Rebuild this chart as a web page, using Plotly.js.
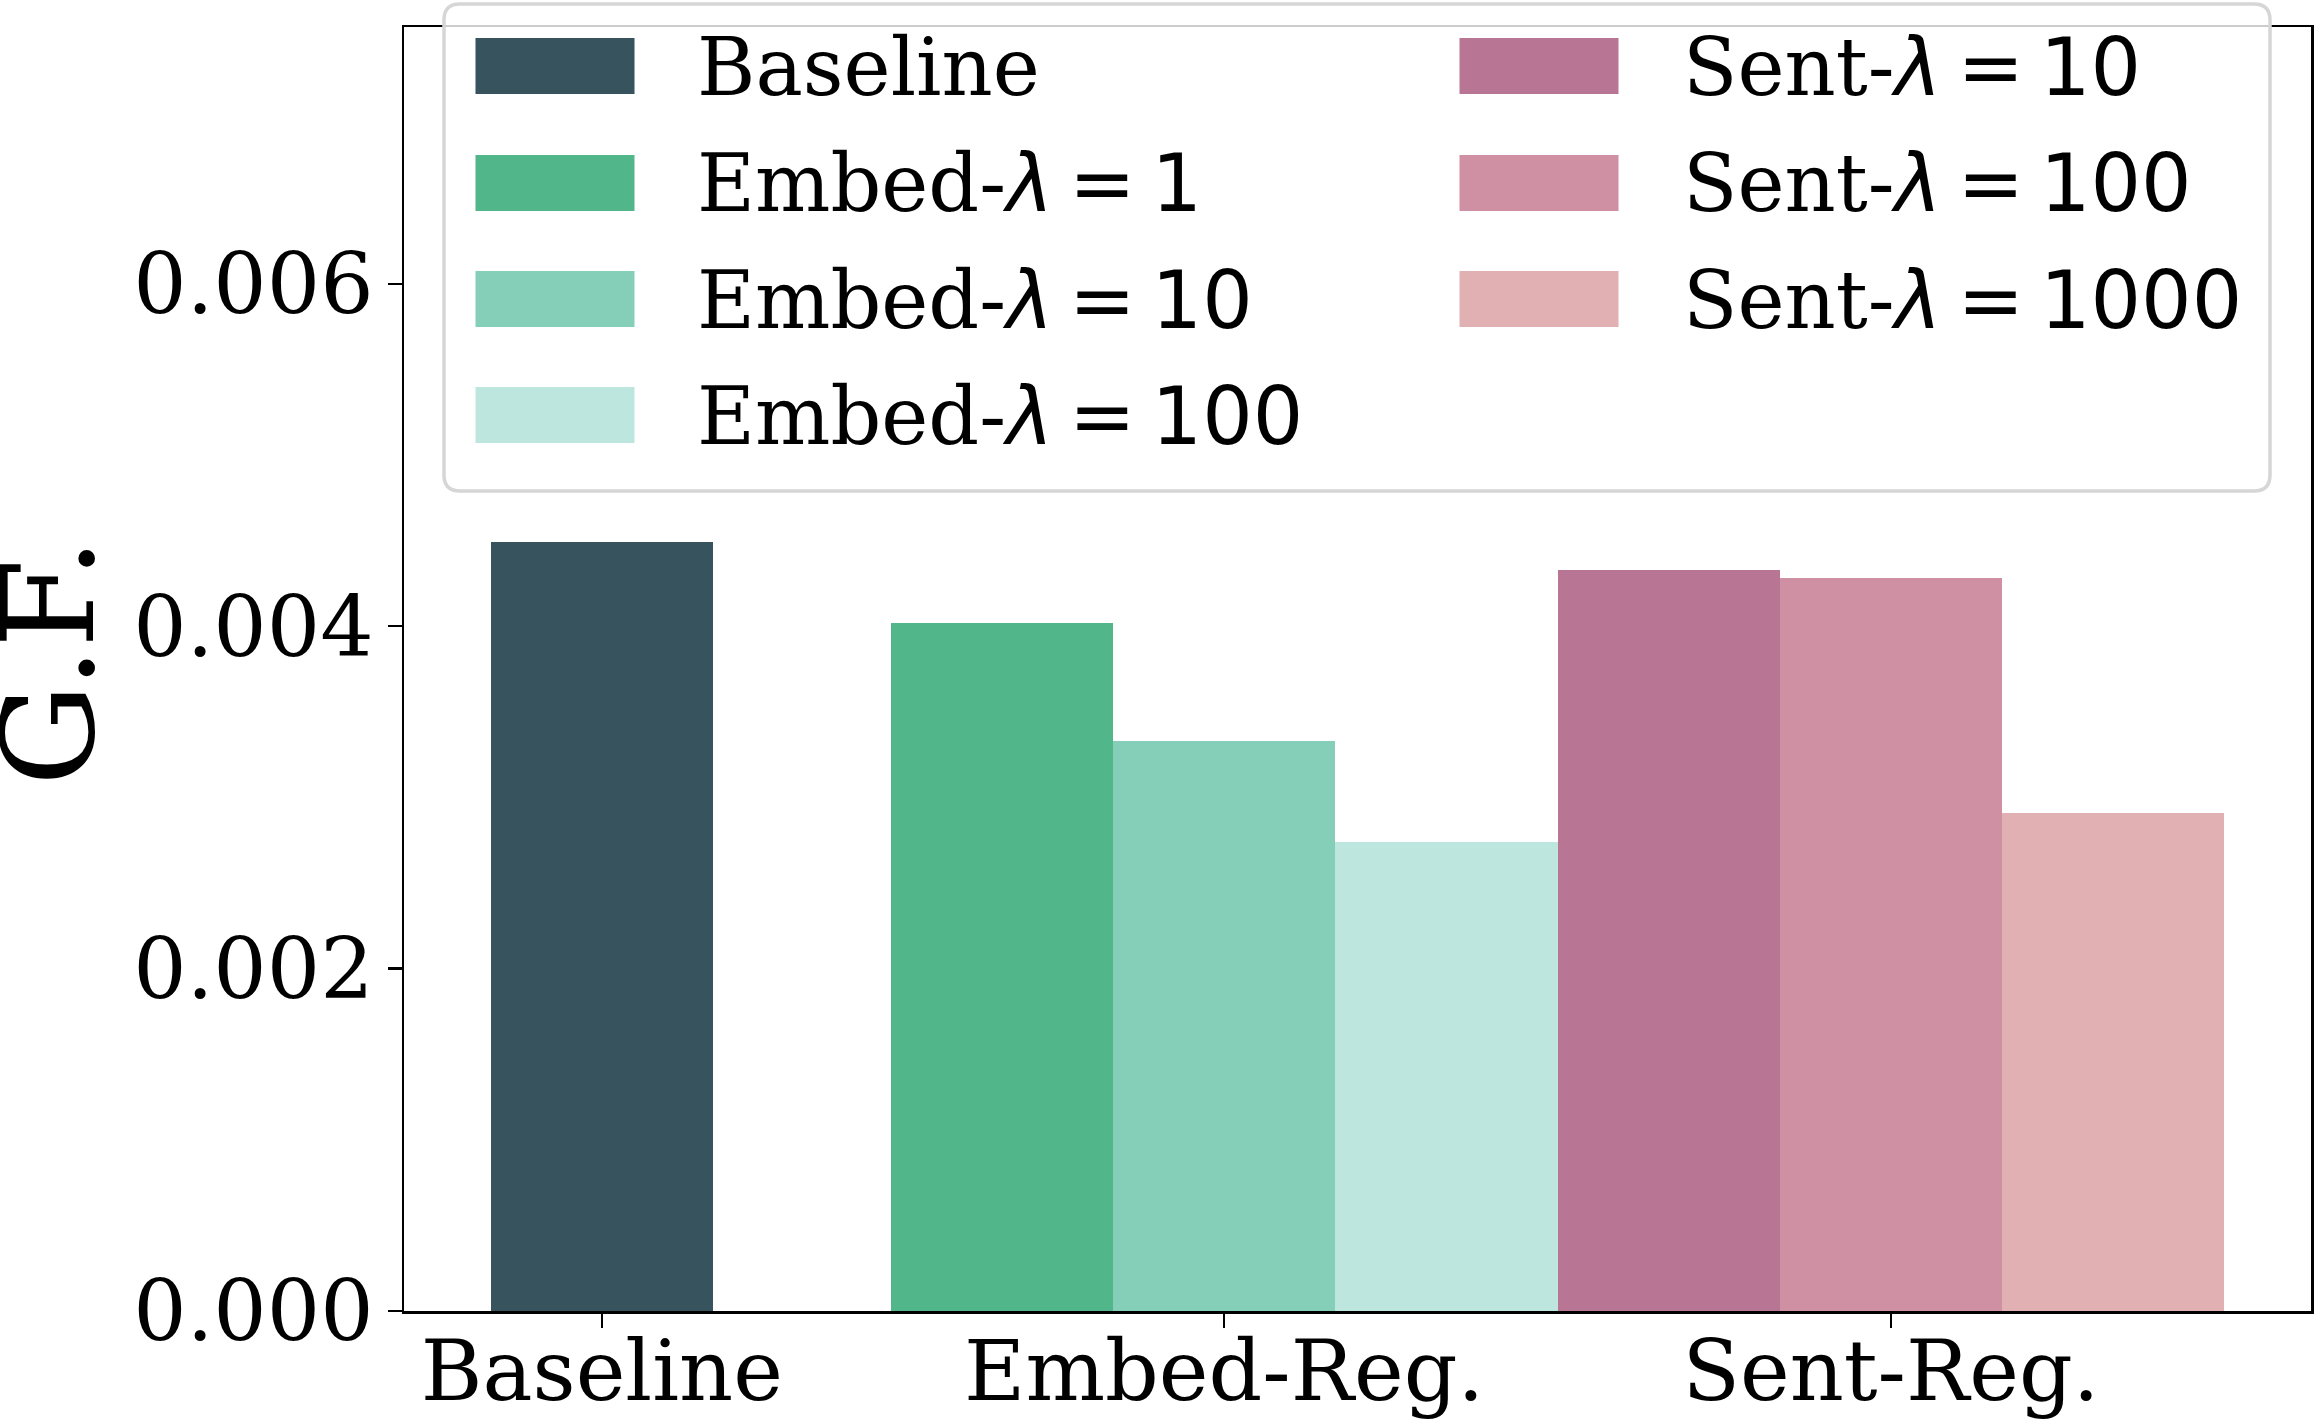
<!DOCTYPE html>
<html>
<head>
<meta charset="utf-8">
<script src="https://cdn.plot.ly/plotly-3.0.1.min.js"></script>
<style>
  html, body { margin: 0; padding: 0; background: #ffffff; }
  #chart { width: 2314px; height: 1423px; }
</style>
</head>
<body>
<div id="chart"></div>
<script>
// Regularisation groups shown on the x axis
const groups = ["Baseline", "Embed-Reg.", "Sent-Reg."];

// One bar per setting, with the group it belongs to
const seriesNames = [
  "Baseline",
  "Embed-λ = 1", "Embed-λ = 10", "Embed-λ = 100",
  "Sent-λ = 10", "Sent-λ = 100", "Sent-λ = 1000"
];
const seriesGroup = [0, 1, 1, 1, 2, 2, 2];

// G.F. score for each setting
const gfValues = [0.00449, 0.00402, 0.00333, 0.00274, 0.00433, 0.00428, 0.00291];

// Y axis ticks
const yTicks = [0.000, 0.002, 0.004, 0.006];

// Styling
const palette = ["#37535e", "#52b68b", "#85cfb9", "#bde6de", "#b87594", "#cf90a3", "#e1b0b3"];
const SERIF = "DejaVu Serif";
const SANS = "DejaVu Sans";

// Bars in a group sit side by side around the group centre
const groupCenters = [0, 2.8, 5.8];
const barWidth = 1;
const positions = seriesNames.map((_, i) => {
  const g = seriesGroup[i];
  const members = seriesGroup.map((gg, j) => gg === g ? j : -1).filter(j => j >= 0);
  const k = members.indexOf(i);
  return groupCenters[g] + (k - (members.length - 1) / 2) * barWidth;
});

const traces = seriesNames.map((name, i) => ({
  type: "bar",
  name: name,
  x: [positions[i]],
  y: [gfValues[i]],
  width: barWidth,
  marker: { color: palette[i], line: { width: 0 } },
  showlegend: false,
  hoverinfo: "name+y"
}));

// Plot-area geometry in pixels (used for the hand-built legend box)
const W = 2314, H = 1423;
const M = { l: 404, r: 3, t: 27, b: 112 };
const PW = W - M.l - M.r, PH = H - M.t - M.b;
const px2x = p => (p - M.l) / PW;
const py2y = p => (M.t + PH - p) / PH;

// Rounded legend frame
function roundedRect(x0, y0, x1, y1, r) {
  const X = px2x, Y = py2y;
  return `M${X(x0 + r)},${Y(y0)} L${X(x1 - r)},${Y(y0)} Q${X(x1)},${Y(y0)} ${X(x1)},${Y(y0 + r)} ` +
         `L${X(x1)},${Y(y1 - r)} Q${X(x1)},${Y(y1)} ${X(x1 - r)},${Y(y1)} ` +
         `L${X(x0 + r)},${Y(y1)} Q${X(x0)},${Y(y1)} ${X(x0)},${Y(y1 - r)} ` +
         `L${X(x0)},${Y(y0 + r)} Q${X(x0)},${Y(y0)} ${X(x0 + r)},${Y(y0)} Z`;
}

const shapes = [{
  type: "path",
  xref: "paper", yref: "paper",
  path: roundedRect(444, 4, 2270, 491, 16),
  fillcolor: "rgba(255,255,255,0.8)",
  line: { color: "#d6d6d6", width: 3.5 },
  layer: "above"
}];

const annotations = [];

// Legend entries: two columns, filled column by column
const legendCols = [[0, 1, 2, 3], [4, 5, 6]];
const colPatchX = [475.5, 1459.5];
const colTextX = [695, 1681];
const rowCenters = [66, 183, 299, 415];
const patchW = 159, patchH = 56;

// "Embed-λ = 10" -> serif prefix, italic sans λ, thin spaces round "="
function legendLabel(name) {
  const idx = name.indexOf("-λ");
  if (idx < 0) return name;
  const head = name.slice(0, idx + 1);
  const tail = name.slice(idx + 2).replace(/ /g, "\u2009");
  return `${head}<span style="font-family:${SANS}"><i>λ</i>${tail}</span>`;
}

legendCols.forEach((col, c) => {
  col.forEach((si, r) => {
    const cy = rowCenters[r];
    shapes.push({
      type: "rect",
      xref: "paper", yref: "paper",
      x0: px2x(colPatchX[c]), x1: px2x(colPatchX[c] + patchW),
      y0: py2y(cy - patchH / 2), y1: py2y(cy + patchH / 2),
      fillcolor: palette[si],
      line: { width: 0 },
      layer: "above"
    });
    annotations.push({
      xref: "paper", yref: "paper",
      x: px2x(colTextX[c]), y: py2y(cy + 1),
      xanchor: "left", yanchor: "middle",
      text: legendLabel(seriesNames[si]),
      showarrow: false,
      font: { family: SERIF, size: 79.5, color: "#000000" }
    });
  });
});

// Y axis label
annotations.push({
  xref: "paper", yref: "paper",
  x: 0, y: py2y(662),
  xshift: -356,
  xanchor: "center", yanchor: "middle",
  text: "G.F.",
  textangle: -90,
  showarrow: false,
  font: { family: SERIF, size: 128, color: "#000000" }
});

const layout = {
  width: W, height: H,
  margin: M,
  paper_bgcolor: "#ffffff",
  plot_bgcolor: "#ffffff",
  bargap: 0,
  showlegend: false,
  font: { family: SERIF, color: "#000000" },
  xaxis: {
    range: [-0.89, 7.69],
    tickmode: "array",
    tickvals: groupCenters,
    ticktext: groups,
    ticks: "outside", ticklen: 14, tickwidth: 2.5, tickcolor: "#000000",
    ticklabelstandoff: -28,
    showline: true, linewidth: 2.5, linecolor: "#000000", mirror: true,
    showgrid: false, zeroline: false,
    tickfont: { family: SERIF, size: 84, color: "#000000" },
    fixedrange: true
  },
  yaxis: {
    range: [0, 0.0075],
    tickmode: "array",
    tickvals: yTicks,
    ticktext: yTicks.map(v => v.toFixed(3)),
    ticks: "outside", ticklen: 14, tickwidth: 2.5, tickcolor: "#000000",
    ticklabelstandoff: -3,
    showline: true, linewidth: 2.5, linecolor: "#000000", mirror: true,
    showgrid: false, zeroline: false,
    tickfont: { family: SERIF, size: 84, color: "#000000" },
    fixedrange: true
  },
  shapes: shapes,
  annotations: annotations
};

Plotly.newPlot("chart", traces, layout, { displayModeBar: false, staticPlot: true });
</script>
</body>
</html>
